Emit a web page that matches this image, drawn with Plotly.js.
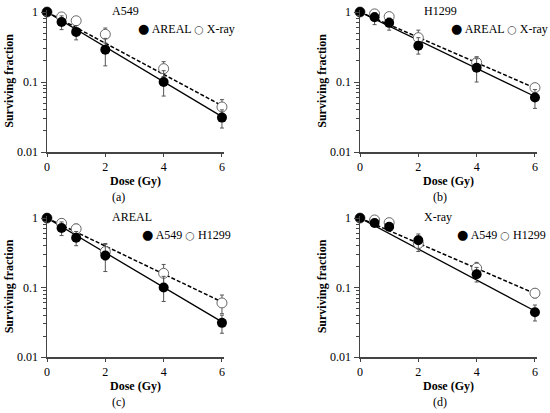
<!DOCTYPE html>
<html>
<head>
<meta charset="utf-8">
<script src="https://cdn.plot.ly/plotly-3.0.1.min.js"></script>
<style>html,body{margin:0;padding:0;background:#fff;}#chart{width:550px;height:413px;}</style>
</head>
<body>
<div id="chart"></div>
<script>
// ---- data ----
const dose = [0, 0.5, 1, 2, 4, 6];
const fitDose = [0, 6];

const a549Areal      = [1, 0.72, 0.52, 0.29, 0.10, 0.031];
const a549ArealErrUp = [0, 0.16, 0.12, 0.13, 0.045, 0.009];
const a549ArealErrDn = [0, 0.16, 0.12, 0.12, 0.037, 0.009];
const a549ArealFit   = [1, 0.032];

const a549Xray       = [1, 0.85, 0.75, 0.48, 0.155, 0.044];
const a549XrayErrUp  = [0, 0.09, 0.09, 0.11, 0.04, 0.012];
const a549XrayErrDn  = [0, 0.10, 0.09, 0.12, 0.035, 0.011];
const a549XrayFit    = [1, 0.046];

const h1299Areal      = [1, 0.84, 0.70, 0.33, 0.16, 0.060];
const h1299ArealErrUp = [0, 0.14, 0.12, 0.10, 0.055, 0.018];
const h1299ArealErrDn = [0, 0.18, 0.15, 0.08, 0.06, 0.018];
const h1299ArealFit   = [1, 0.062];

const h1299Xray       = [1, 0.94, 0.86, 0.43, 0.19, 0.083];
const h1299XrayErrUp  = [0, 0.08, 0.09, 0.12, 0.04, 0.012];
const h1299XrayErrDn  = [0, 0.08, 0.09, 0.10, 0.035, 0.012];
const h1299XrayFit    = [1, 0.082];

const xTickVals = [0, 2, 4, 6];
const yTickVals = [0.01, 0.1, 1];
const yTickText = ['0.01', '0.1', '1'];
const yMinorTicks = [0.02, 0.03, 0.04, 0.05, 0.06, 0.07, 0.08, 0.09,
                     0.2, 0.3, 0.4, 0.5, 0.6, 0.7, 0.8, 0.9];

const panelTitles = ['A549', 'H1299', 'AREAL', 'X-ray'];
const panelLetters = ['(a)', '(b)', '(c)', '(d)'];
const legendFilled = ['AREAL', 'AREAL', 'A549', 'A549'];
const legendOpen = ['X-ray', 'X-ray', 'H1299', 'H1299'];

// ---- panels ----
const panels = [
  {filled:[a549Areal,a549ArealErrUp,a549ArealErrDn,a549ArealFit], open:[a549Xray,a549XrayErrUp,a549XrayErrDn,a549XrayFit]},
  {filled:[h1299Areal,h1299ArealErrUp,h1299ArealErrDn,h1299ArealFit], open:[h1299Xray,h1299XrayErrUp,h1299XrayErrDn,h1299XrayFit]},
  {filled:[a549Areal,a549ArealErrUp,a549ArealErrDn,a549ArealFit], open:[h1299Areal,h1299ArealErrUp,h1299ArealErrDn,h1299ArealFit]},
  {filled:[a549Xray,a549XrayErrUp,a549XrayErrDn,a549XrayFit], open:[h1299Xray,h1299XrayErrUp,h1299XrayErrDn,h1299XrayFit]}
];

const W = 550, H = 413;
const px = v => v / W;
const py = v => 1 - v / H;

// pixel geometry of each panel: [xLeft, xRight, yBottom, yTop]
const geom = [
  [47, 224, 152, 9.9],
  [360, 537, 152, 9.9],
  [47, 224, 357, 216],
  [360, 537, 357, 216]
];
const titlePos = [[125, 11], [441, 11], [132, 217], [438, 217]];
const legendPos = [[186, 29], [499, 29], [186, 234], [501, 234]];
const letterPos = [[118, 197], [440, 197], [118, 402], [440, 402]];

const serif = 'Liberation Serif, Times New Roman, serif';
const errColor = '#555';
const traces = [];
const layout = {
  width: W, height: H,
  margin: {l: 0, r: 0, t: 0, b: 0},
  paper_bgcolor: '#fff', plot_bgcolor: '#fff',
  showlegend: false,
  font: {family: serif, size: 12, color: '#000'},
  annotations: []
};

panels.forEach((p, i) => {
  const sfx = i === 0 ? '' : String(i + 1);
  const xa = 'x' + sfx, ya = 'y' + sfx, yMinor = 'y' + (i + 5);
  const [fy, fUp, fDn, fFit] = p.filled;
  const [oy, oUp, oDn, oFit] = p.open;
  // invisible carrier trace so the minor-tick overlay axis is drawn
  traces.push({x: fitDose, y: fFit, xaxis: xa, yaxis: yMinor, mode: 'lines',
    line: {color: 'rgba(0,0,0,0)', width: 0}, hoverinfo: 'skip', showlegend: false});
  traces.push({x: fitDose, y: fFit, xaxis: xa, yaxis: ya, mode: 'lines',
    line: {color: '#000', width: 1.3}, hoverinfo: 'skip'});
  traces.push({x: fitDose, y: oFit, xaxis: xa, yaxis: ya, mode: 'lines',
    line: {color: '#000', width: 1.5, dash: '4px,2px'}, hoverinfo: 'skip'});
  traces.push({x: dose, y: oy, xaxis: xa, yaxis: ya, mode: 'markers', name: legendOpen[i],
    cliponaxis: false,
    marker: {symbol: 'circle', size: 10, color: '#fff', line: {color: '#666', width: 1}},
    error_y: {type: 'data', symmetric: false, array: oUp, arrayminus: oDn, color: errColor, thickness: 1, width: 2}});
  traces.push({x: dose, y: fy, xaxis: xa, yaxis: ya, mode: 'markers', name: legendFilled[i],
    cliponaxis: false,
    marker: {symbol: 'circle', size: 10, color: '#000'},
    error_y: {type: 'data', symmetric: false, array: fUp, arrayminus: fDn, color: errColor, thickness: 1, width: 2}});

  const g = geom[i];
  layout['xaxis' + sfx] = {
    domain: [px(g[0]), px(g[1])], anchor: ya, range: [0, 6.07],
    tickvals: xTickVals, ticks: 'outside', ticklen: 3, tickcolor: '#444',
    showline: true, linecolor: '#444', linewidth: 1.5, showgrid: false, zeroline: false,
    tickfont: {family: serif, size: 12},
    title: {text: '<b>Dose (Gy)</b>', font: {family: serif, size: 12}, standoff: 0},
    automargin: false, fixedrange: true
  };
  layout['yaxis' + sfx] = {
    domain: [py(g[2]), py(g[3])], anchor: xa, type: 'log', range: [-2, 0.03],
    tickmode: 'array', tickvals: yTickVals, ticktext: yTickText, ticks: 'outside', ticklen: 5, tickcolor: '#444',
    showline: true, linecolor: '#444', linewidth: 1.5, showgrid: false, zeroline: false,
    tickfont: {family: serif, size: 12},
    title: {text: '<b>Surviving fraction</b>', font: {family: serif, size: 12}, standoff: 1},
    automargin: false, fixedrange: true
  };
  // overlay axis carrying the minor ticks
  layout['yaxis' + (i + 5)] = {
    overlaying: ya, anchor: xa, side: 'left', type: 'log', range: [-2, 0.03],
    tickmode: 'array', tickvals: yMinorTicks, ticks: 'outside', ticklen: 3, tickwidth: 1, tickcolor: '#444',
    showticklabels: false, showline: false, showgrid: false, zeroline: false,
    automargin: false, fixedrange: true
  };

  layout.annotations.push({xref: 'paper', yref: 'paper', x: px(titlePos[i][0]), y: py(titlePos[i][1]),
    text: panelTitles[i], showarrow: false, xanchor: 'center', yanchor: 'middle', font: {family: serif, size: 12}});
  layout.annotations.push({xref: 'paper', yref: 'paper', x: px(legendPos[i][0]), y: py(legendPos[i][1]),
    text: '<span style="font-family:DejaVu Sans;font-size:13px">●</span> ' + legendFilled[i] +
          ' <span style="font-family:DejaVu Sans;font-size:11px;color:#555">○</span> ' + legendOpen[i],
    showarrow: false, xanchor: 'center', yanchor: 'middle', font: {family: serif, size: 12}});
  layout.annotations.push({xref: 'paper', yref: 'paper', x: px(letterPos[i][0]), y: py(letterPos[i][1]),
    text: panelLetters[i], showarrow: false, xanchor: 'center', yanchor: 'middle', font: {family: serif, size: 12}});
});

Plotly.newPlot('chart', traces, layout, {staticPlot: true, displayModeBar: false});
</script>
</body>
</html>
